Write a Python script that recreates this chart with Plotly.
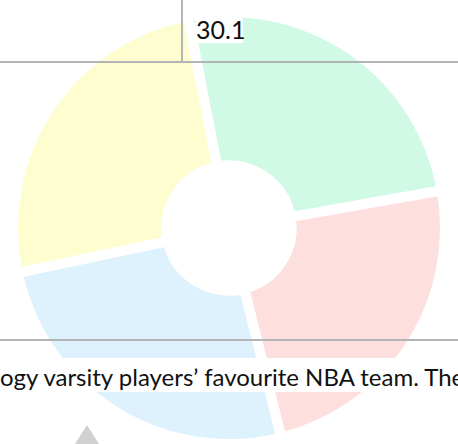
import plotly.graph_objects as go

# --- data ---
labels = ["Team A", "Team B", "Team C", "Team D"]
values = [91, 86, 92, 91]
colors = ["#d1fae6", "#fde0dd", "#def2fd", "#fefdd0"]

cell_value = "30.1"
caption = "ogy varsity players\u2019 favourite NBA team. The"

W, H = 458, 444

def px(x):
    return x / W

def py(y):
    return 1 - y / H

fig = go.Figure(go.Pie(
    labels=labels,
    values=values,
    sort=False,
    direction="clockwise",
    rotation=-11,
    hole=0.29,
    marker=dict(colors=colors, line=dict(color="white", width=10)),
    textinfo="none",
    hoverinfo="label+value",
    showlegend=False,
    domain=dict(x=[0, 1], y=[0, 1 - 12 / H]),
))

line_col = "#b4b4b4"
shapes = [
    dict(type="line", xref="paper", yref="paper", x0=0, x1=1, y0=py(62), y1=py(62),
         line=dict(color=line_col, width=2), layer="above"),
    dict(type="line", xref="paper", yref="paper", x0=px(182), x1=px(182), y0=1, y1=py(62),
         line=dict(color=line_col, width=2), layer="above"),
    dict(type="line", xref="paper", yref="paper", x0=0, x1=1, y0=py(340), y1=py(340),
         line=dict(color=line_col, width=2), layer="above"),
    dict(type="rect", xref="paper", yref="paper", x0=px(195), x1=px(243), y0=py(43), y1=py(17),
         fillcolor="white", line=dict(width=0), layer="above"),
    dict(type="rect", xref="paper", yref="paper", x0=0, x1=1, y0=py(392), y1=py(358),
         fillcolor="white", line=dict(width=0), layer="above"),
    dict(type="path", xref="paper", yref="paper",
         path=f"M {px(75)} {py(444)} L {px(87)} {py(425)} L {px(99)} {py(444)} Z",
         fillcolor="#d0d0d0", line=dict(width=0), layer="above"),
]

annotations = [
    dict(text=cell_value, xref="paper", yref="paper", x=px(194), y=py(29),
         xanchor="left", yanchor="middle", showarrow=False,
         font=dict(family="Lato", size=25, color="#111111")),
    dict(text=caption, xref="paper", yref="paper", x=px(-2), y=py(376),
         xanchor="left", yanchor="middle", showarrow=False,
         font=dict(family="Lato", size=24, color="#111111")),
]

fig.update_layout(
    width=W, height=H,
    margin=dict(l=0, r=0, t=0, b=0),
    paper_bgcolor="white",
    plot_bgcolor="white",
    shapes=shapes,
    annotations=annotations,
)

fig.write_html("out.html", config={"displayModeBar": False},
               post_script="document.body.style.margin='0';")
